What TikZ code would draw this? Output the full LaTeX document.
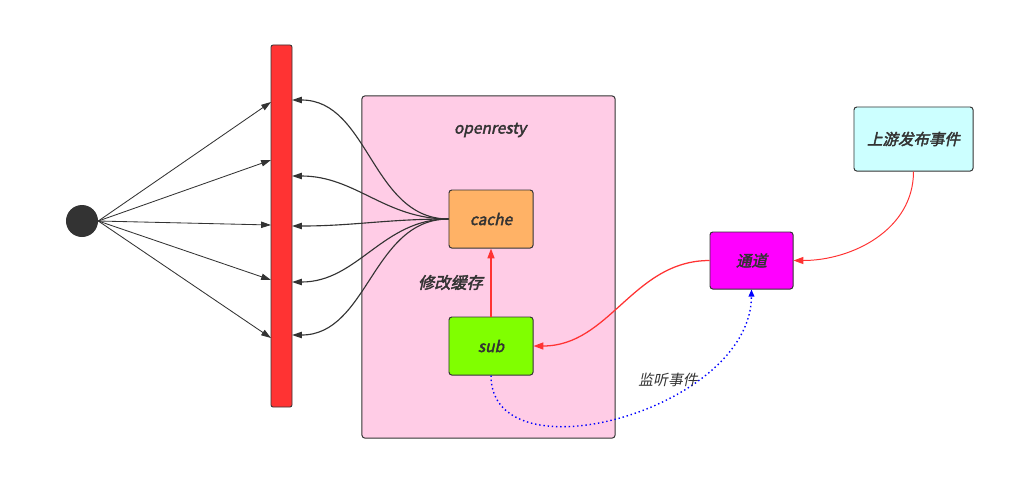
\documentclass[tikz,border=0pt]{standalone}
\usepackage{fontspec}
\setmainfont{Noto Sans CJK SC}[AutoFakeBold=2.5, AutoFakeSlant=0.22]
\usetikzlibrary{positioning, arrows.meta}
\definecolor{DarkGray}{RGB}{51,51,51}
\definecolor{BarRed}{RGB}{255,51,51}
\definecolor{BoxPink}{RGB}{255,204,230}
\definecolor{CacheOrange}{RGB}{255,178,102}
\definecolor{SubGreen}{RGB}{128,255,0}
\definecolor{ChanMagenta}{RGB}{255,0,255}
\definecolor{UpCyan}{RGB}{204,255,255}

\tikzset{
  box/.style={draw=DarkGray, line width=0.7pt, rounded corners=2pt,
    minimum width=2.1cm, minimum height=1.45cm, text=DarkGray,
    font=\fontsize{11}{13}\selectfont\bfseries\itshape},
  darkline/.style={DarkGray, line width=0.6pt, -{Triangle[length=7pt,width=4.5pt]}},
  redline/.style={BarRed, line width=0.7pt, -{Triangle[length=7pt,width=5pt]}},
}

\begin{document}
\begin{tikzpicture}[x=0.025cm, y=-0.025cm]
  \useasboundingbox (0,0) rectangle (1031,502);
  % openresty container
  \node[draw=DarkGray, fill=BoxPink, line width=0.7pt, rounded corners=2pt,
    minimum width=6.325cm, minimum height=8.55cm] (openresty) at (488.5,267) {};
  \node[text=DarkGray, font=\fontsize{11}{13}\selectfont\bfseries\itshape] (title) at (490,130) {openresty};
  % Source and red bar
  \node[circle, fill=DarkGray, minimum size=0.8cm, inner sep=0pt] (dot) at (82,221) {};
  \node[draw=DarkGray, fill=BarRed, line width=0.6pt, rounded corners=1.5pt,
    minimum width=0.525cm, minimum height=9.05cm, inner sep=0pt] (bar) at (281.5,226) {};
  \foreach \y [count=\i] in {102,160,225,280,338} {\coordinate (in\i) at (271,\y);}
  \foreach \y [count=\i] in {100,176,226,282,335} {\coordinate (out\i) at (292,\y);}
  % Boxes
  \node[box, fill=CacheOrange] (cache) at (491,219) {cache};
  \node[box, fill=SubGreen] (sub) at (491,346) {sub};
  \node[box, fill=ChanMagenta, minimum width=2.075cm, minimum height=1.425cm] (chan) at (751.5,260.5) {通道};
  \node[box, fill=UpCyan, minimum width=2.975cm, minimum height=1.6cm] (up) at (913.5,139) {上游发布事件};
  % Fan out from the source
  \foreach \i in {1,...,5} {\draw[darkline] (dot.east) -- (in\i);}
  % Fan back from cache
  \foreach \i in {1,...,5} {\draw[darkline, line width=0.8pt] (cache.west) to[out=180, in=0] (out\i);}
  % Update path
  \draw[redline, line width=1pt] (sub.north) -- (cache.south)
    node[midway, left=2pt, text=DarkGray, font=\fontsize{11.5}{13}\selectfont\bfseries\itshape] {修改缓存};
  \draw[redline] (up.south) to[out=-90, in=0] (chan.east);
  \draw[redline, line width=0.9pt] (chan.west) to[out=180, in=0] (sub.east);
  % Listening
  \draw[blue, line width=1pt, dotted, -{Triangle[length=5pt,width=4pt]}]
    (sub.south) .. controls (491,480) and (751,410) .. (chan.south);
  \node[text=DarkGray, font=\fontsize{10.5}{12}\selectfont\itshape] (listen) at (668,380) {监听事件};
\end{tikzpicture}
\end{document}
